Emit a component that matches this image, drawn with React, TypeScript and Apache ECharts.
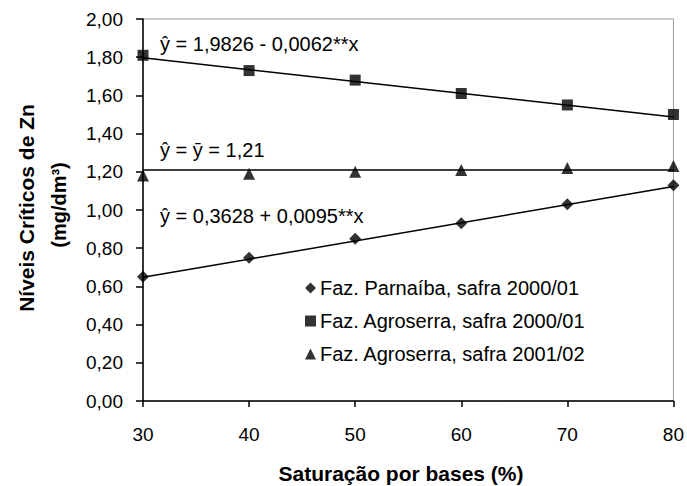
import React, { useEffect, useRef } from "react";
import * as echarts from "echarts";

// Base saturation levels (%)
const saturation = [30, 40, 50, 60, 70, 80];

// Critical Zn levels (mg/dm³) per site/season
const parnaiba0001 = [0.65, 0.75, 0.85, 0.93, 1.03, 1.13];
const agroserra0001 = [1.81, 1.73, 1.68, 1.61, 1.55, 1.5];
const agroserra0102 = [1.18, 1.19, 1.2, 1.21, 1.22, 1.23];

// Fitted regression coefficients [intercept, slope]
const fitParnaiba = [0.3628, 0.0095];
const fitAgroserra0001 = [1.9826, -0.0062];
const meanAgroserra0102 = 1.21;

const seriesNames = [
  "Faz. Parnaíba, safra 2000/01",
  "Faz. Agroserra, safra 2000/01",
  "Faz. Agroserra, safra 2001/02",
];

const equationLabels = [
  "ŷ = 1,9826 - 0,0062**x",
  "ŷ = ȳ = 1,21",
  "ŷ = 0,3628 + 0,0095**x",
];

const yTicks = { min: 0, max: 2, interval: 0.2 };
const xTicks = { min: 30, max: 80, interval: 10 };

const FONT = "'Liberation Sans', Arial, sans-serif";

function fitLine(coef: number[]) {
  const xs = [saturation[0], saturation[saturation.length - 1]];
  return xs.map((x) => [x, coef[0] + coef[1] * x]);
}

export default function App() {
  const ref = useRef<HTMLDivElement>(null);

  useEffect(() => {
    if (!ref.current) return;
    const chart = echarts.init(ref.current, null, { renderer: "svg" });

    const pts = (vals: number[]) => saturation.map((x, i) => [x, vals[i]]);
    const trend = {
      type: "line",
      symbol: "none",
      silent: true,
      lineStyle: { color: "#000", width: 1.5 },
      z: 2,
    };

    chart.setOption({
      animation: false,
      backgroundColor: "#fff",
      grid: {
        left: 143,
        right: 10,
        top: 19,
        bottom: 85,
        show: true,
        borderColor: "#9a9a9a",
        borderWidth: 1,
      },
      xAxis: {
        type: "value",
        min: xTicks.min,
        max: xTicks.max,
        interval: xTicks.interval,
        axisLine: { lineStyle: { color: "#000", width: 1.5 } },
        axisTick: { show: true, length: 6, lineStyle: { color: "#000", width: 1.5 } },
        splitLine: { show: false },
        axisLabel: { color: "#000", fontSize: 19, fontFamily: FONT, margin: 24 },
      },
      yAxis: {
        type: "value",
        min: yTicks.min,
        max: yTicks.max,
        interval: yTicks.interval,
        axisLine: { show: true, lineStyle: { color: "#000", width: 1.5 } },
        axisTick: { show: true, length: 7, lineStyle: { color: "#000", width: 1.5 } },
        splitLine: { show: false },
        axisLabel: {
          color: "#000",
          fontSize: 19,
          fontFamily: FONT,
          margin: 20,
          formatter: (v: number) => v.toFixed(2).replace(".", ","),
        },
      },
      legend: {
        orient: "vertical",
        left: 300,
        top: 273,
        itemWidth: 11,
        itemHeight: 11,
        itemGap: 13,
        textStyle: { color: "#000", fontSize: 20, fontFamily: FONT, padding: [0, 0, 0, -1] },
        data: [
          { name: seriesNames[0], icon: "diamond" },
          { name: seriesNames[1], icon: "rect" },
          { name: seriesNames[2], icon: "triangle" },
        ],
      },
      series: [
        { ...trend, name: "fit-parnaiba", data: fitLine(fitParnaiba) },
        { ...trend, name: "fit-agroserra-0001", data: fitLine(fitAgroserra0001) },
        { ...trend, name: "fit-agroserra-0102", data: fitLine([meanAgroserra0102, 0]) },
        {
          type: "scatter",
          name: seriesNames[0],
          symbol: "diamond",
          symbolSize: 12,
          itemStyle: { color: "#000" },
          data: pts(parnaiba0001),
          z: 3,
        },
        {
          type: "scatter",
          name: seriesNames[1],
          symbol: "rect",
          symbolSize: 11,
          itemStyle: { color: "#000" },
          data: pts(agroserra0001),
          z: 3,
        },
        {
          type: "scatter",
          name: seriesNames[2],
          symbol: "triangle",
          symbolSize: 12,
          itemStyle: { color: "#000" },
          data: pts(agroserra0102),
          z: 3,
        },
      ],
      graphic: [
        {
          type: "text",
          left: 160,
          top: 34,
          style: { text: equationLabels[0], fill: "#000", font: `20px ${FONT}` },
        },
        {
          type: "text",
          left: 160,
          top: 140,
          style: { text: equationLabels[1], fill: "#000", font: `20px ${FONT}` },
        },
        {
          type: "text",
          left: 160,
          top: 206,
          style: { text: equationLabels[2], fill: "#000", font: `20px ${FONT}` },
        },
        {
          type: "text",
          x: 26,
          y: 208,
          rotation: Math.PI / 2,
          style: {
            text: "Níveis Críticos de Zn",
            fill: "#000",
            font: `bold 21px ${FONT}`,
            align: "center",
            verticalAlign: "middle",
          },
        },
        {
          type: "text",
          x: 59,
          y: 205,
          rotation: Math.PI / 2,
          style: {
            text: "(mg/dm³)",
            fill: "#000",
            font: `bold 20px ${FONT}`,
            align: "center",
            verticalAlign: "middle",
          },
        },
        {
          type: "text",
          x: 401,
          y: 473,
          style: {
            text: "Saturação por bases (%)",
            fill: "#000",
            font: `bold 21px ${FONT}`,
            align: "center",
            verticalAlign: "middle",
          },
        },
      ],
    });

    return () => chart.dispose();
  }, []);

  return (
    <div
      ref={ref}
      style={{ position: "absolute", left: 0, top: 0, width: 687, height: 486 }}
    />
  );
}
